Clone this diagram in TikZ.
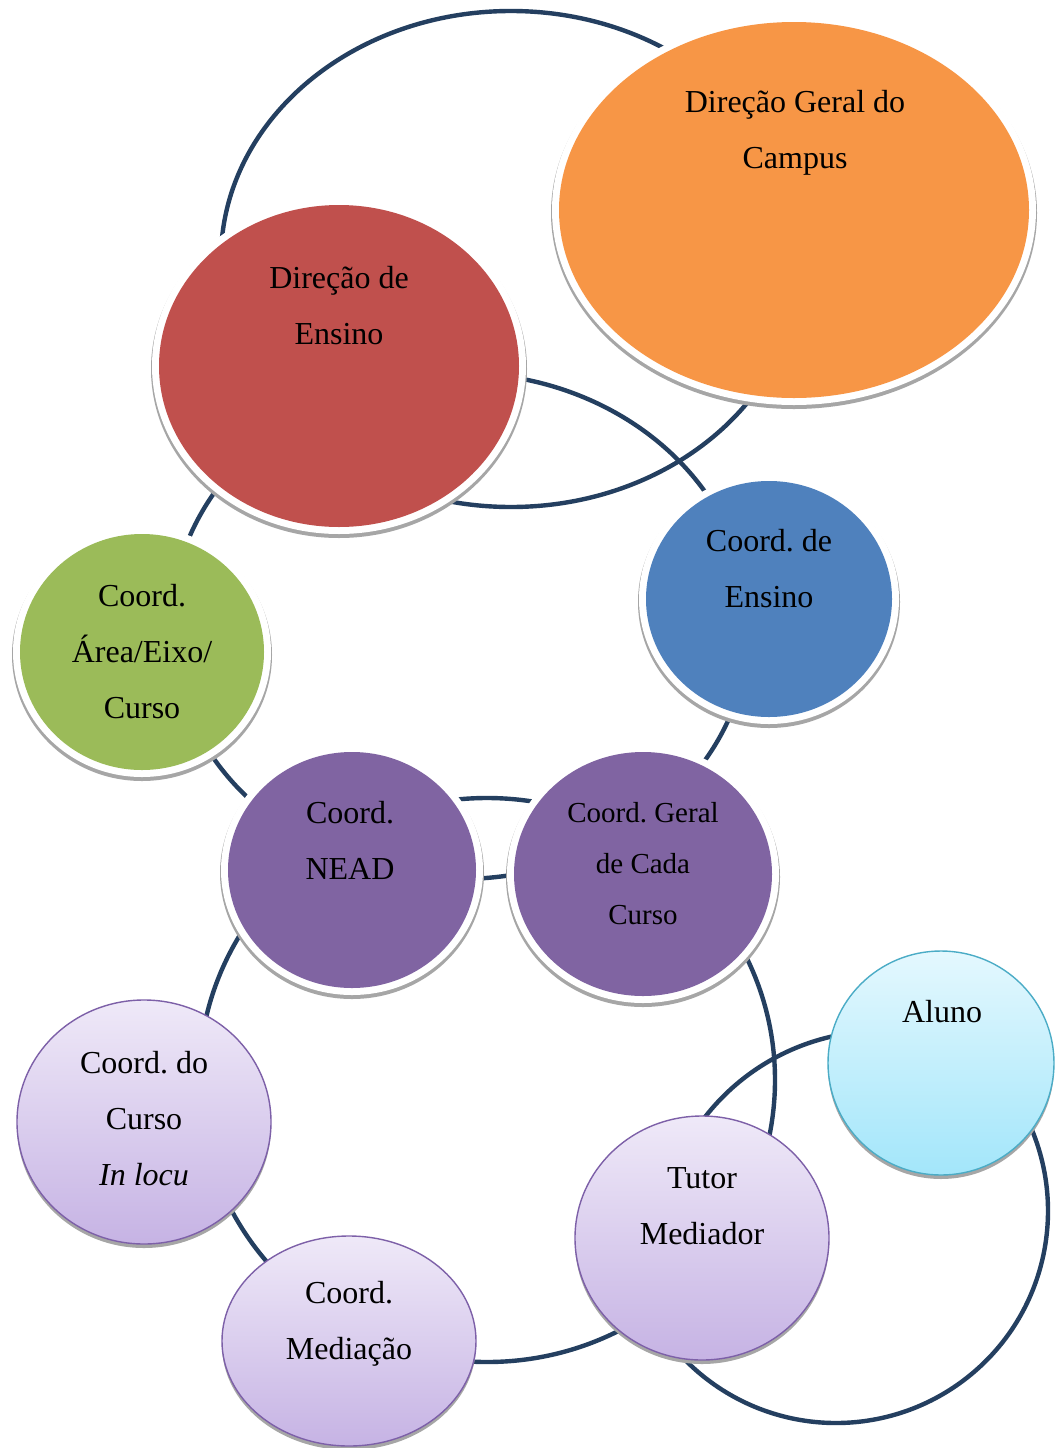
\documentclass[tikz,border=0pt]{standalone}
\usepackage{fontspec}
\setmainfont{Liberation Serif}
\usetikzlibrary{shapes.geometric}
\frenchspacing

\definecolor{ringcol}{HTML}{243F60}
\definecolor{shadowgray}{HTML}{A6A6A6}
\definecolor{orangefill}{HTML}{F79646}
\definecolor{redfill}{HTML}{C0504D}
\definecolor{bluefill}{HTML}{4F81BD}
\definecolor{greenfill}{HTML}{9BBB59}
\definecolor{purplefill}{HTML}{8064A2}
\definecolor{lavtop}{HTML}{EFE9F8}
\definecolor{lavbot}{HTML}{C6B3E4}
\definecolor{lavborder}{HTML}{7D60A8}
\definecolor{skytop}{HTML}{E4F8FE}
\definecolor{skybot}{HTML}{A3E6FA}
\definecolor{skyborder}{HTML}{4BACC6}

\tikzset{
  ring/.style={draw=ringcol, line width=4.4pt},
  solidbubble/.style={ellipse, inner sep=0pt, fill=#1},
  softbubble/.style={ellipse, inner sep=0pt, draw=#1, line width=1.4pt},
  lavender/.style={softbubble=lavborder, top color=lavtop, bottom color=lavbot},
  sky/.style={softbubble=skyborder, top color=skytop, bottom color=skybot},
  lbl/.style={anchor=north, align=center, inner sep=0pt, text=black,
              font=\fontsize{32}{56}\selectfont},
  lblsmall/.style={lbl, font=\fontsize{29}{51}\selectfont},
}

% strut that fixes the height of the first text line
\newcommand\firstline{\rule{0pt}{32pt}}

% solid bubble with a white rim and a soft grey shadow
% #1 name, #2 x, #3 y, #4 x radius, #5 y radius, #6 colour
\newcommand\rimbubble[6]{%
  \fill[shadowgray] (#2,#3+3) ellipse [x radius=#4+8, y radius=#5+8];
  \fill[white] (#2,#3) ellipse [x radius=#4+7, y radius=#5+7];
  \node[solidbubble=#6, minimum width=2*#4, minimum height=2*#5] (#1) at (#2,#3) {};
}
% shaded bubble with a thin outline and a grey shadow
% #1 name, #2 x, #3 y, #4 x radius, #5 y radius, #6 style
\newcommand\shadebubble[6]{%
  \fill[shadowgray] (#2,#3+4) ellipse [x radius=#4, y radius=#5];
  \node[#6, minimum width=2*#4, minimum height=2*#5] (#1) at (#2,#3) {};
}

\begin{document}
\begin{tikzpicture}[x=1pt, y=-1pt]
\fill[white] (0,0) rectangle (1058,1448);
\useasboundingbox (0,0) rectangle (1058,1448);

% centres of the rings that tie the units together
\coordinate (ringtop) at (511,259);
\coordinate (ringmid) at (460,626);
\coordinate (ringlow) at (487,1080);
\coordinate (arcin)   at (881,1254);
\coordinate (arcout)  at (836,1211);

% rings, drawn first so that the bubbles cover them
\draw[ring] (ringtop) ellipse [x radius=290, y radius=248];
\draw[ring] (ringmid) ellipse [x radius=289, y radius=253];
\draw[ring] (ringlow) ellipse [x radius=288, y radius=282];
\draw[ring] (arcin) ++(-150:223) arc [start angle=-150, end angle=-90, radius=223];
\draw[ring] (arcout) ++(-40:212) arc [start angle=-40, end angle=150, radius=212];

% solid bubbles
\rimbubble{dgc}{794}{210}{235}{188}{orangefill}
\rimbubble{den}{339}{366}{180}{161}{redfill}
\rimbubble{cen}{769}{599}{123}{118}{bluefill}
\rimbubble{care}{142}{652}{122}{118}{greenfill}
\rimbubble{nead}{352}{870}{124}{118}{purplefill}
\rimbubble{cgc}{643}{874}{129}{122}{purplefill}

% shaded bubbles
\shadebubble{ccl}{144}{1122}{127}{122}{lavender}
\shadebubble{cmed}{349}{1341}{127}{105}{lavender}
\shadebubble{tut}{702}{1238}{127}{122}{lavender}
\shadebubble{alu}{941}{1063}{113}{112}{sky}

% labels
\node[lbl] (dgc-t)  at (795,80)   {\firstline Direção Geral do\\Campus};
\node[lbl] (den-t)  at (339,256)  {\firstline Direção de\\Ensino};
\node[lbl] (cen-t)  at (769,519)  {\firstline Coord. de\\Ensino};
\node[lbl] (care-t) at (142,574)  {\firstline Coord.\\Área/Eixo/\\Curso};
\node[lbl] (nead-t) at (350,791)  {\firstline Coord.\\NEAD};
\node[lblsmall] (cgc-t) at (643,790) {\firstline Coord. Geral\\de Cada\\Curso};
\node[lbl] (ccl-t)  at (144,1041) {\firstline Coord. do\\Curso\\\textit{In locu}};
\node[lbl] (cmed-t) at (349,1271) {\firstline Coord.\\Mediação};
\node[lbl] (tut-t)  at (702,1156) {\firstline Tutor\\Mediador};
\node[lbl] (alu-t)  at (942,990)  {\firstline Aluno};
\end{tikzpicture}
\end{document}
